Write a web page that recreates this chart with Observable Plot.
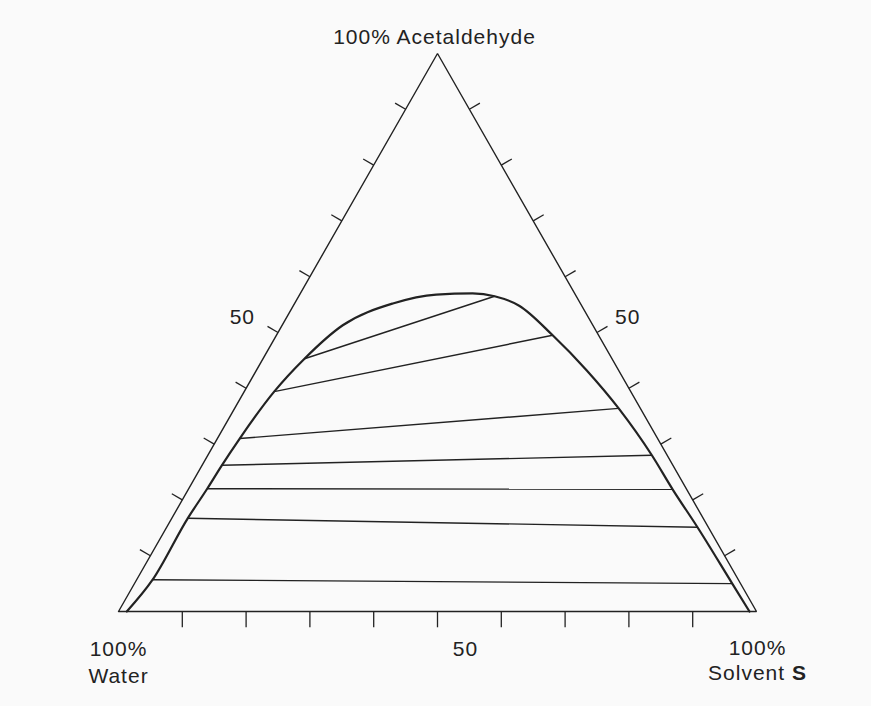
<!DOCTYPE html>
<html><head><meta charset="utf-8">
<script src="https://cdn.jsdelivr.net/npm/d3@7"></script>
<script src="https://cdn.jsdelivr.net/npm/@observablehq/plot@0.6"></script>
<style>
html,body{margin:0;padding:0;background:#fafafa;}
#chart svg text{letter-spacing:1px;}
</style></head><body><div id="chart"></div>
<script>
// ---- data (mass %) ----
const componentNames = ["Acetaldehyde", "Water", "Solvent S"];
const cornerPrefix = "100%";
const tickPercents = [10, 20, 30, 40, 50, 60, 70, 80, 90];
const midTickLabel = "50";

// tie lines: water-rich (raffinate) end and solvent-rich (extract) end
const raffinateAcetaldehyde = [45.3, 39.4, 31.0, 26.2, 22.0, 16.7, 5.7];
const raffinateSolvent      = [6.5, 4.7, 3.5, 3.1, 2.9, 2.5, 2.5];
const extractAcetaldehyde   = [56.5, 49.5, 36.4, 28.0, 21.9, 15.1, 5.0];
const extractSolvent        = [30.7, 43.3, 60.2, 69.6, 75.9, 83.2, 93.7];

// binodal (solubility) curve, from the water corner round to the solvent corner
const binodalAcetaldehyde = [0, 5.7, 16.7, 22.0, 26.2, 31.0, 39.4, 45.3, 51.3, 55.2, 56.8, 57.0, 56.5, 54.8, 49.5, 43.2, 36.4, 28.0, 21.9, 15.1, 5.0, 0];
const binodalSolvent      = [1.3, 2.5, 2.5, 2.9, 3.1, 3.5, 4.7, 6.5, 9.5, 15.4, 21.4, 27.0, 30.7, 35.4, 43.3, 51.8, 60.2, 69.6, 75.9, 83.2, 93.7, 98.9];

// ---- ternary -> cartesian ----
const R3 = Math.sqrt(3) / 2;
const tx = (a, s) => s / 100 + a / 200;
const ty = (a) => (a / 100) * R3;

const triangle = [[0, 0], [0, 100], [100, 0], [0, 0]].map(([a, s]) => ({x: tx(a, s), y: ty(a)}));
const binodal = binodalAcetaldehyde.map((a, i) => ({x: tx(a, binodalSolvent[i]), y: ty(a)}));
const ties = raffinateAcetaldehyde.map((a, i) => ({
  x1: tx(a, raffinateSolvent[i]), y1: ty(a),
  x2: tx(extractAcetaldehyde[i], extractSolvent[i]), y2: ty(extractAcetaldehyde[i])
}));

const tickLen = 0.019, baseTickLen = 0.0245;
const bottomTicks = tickPercents.map(p => ({x1: tx(0, p), y1: 0, x2: tx(0, p), y2: -baseTickLen}));
const leftTicks = tickPercents.map(p => {
  const x = tx(p, 0), y = ty(p);
  return {x1: x, y1: y, x2: x - tickLen * R3, y2: y + tickLen * 0.5};
});
const rightTicks = tickPercents.map(p => {
  const x = tx(p, 100 - p), y = ty(p);
  return {x1: x, y1: y, x2: x + tickLen * R3, y2: y + tickLen * 0.5};
});

const ink = "#222222";
const font = "Liberation Sans, Arial, Helvetica, sans-serif";
const fs = 21;
const txt = (data, opts) => Plot.text(data, {x: "x", y: "y", text: "t", fill: ink, fontFamily: font, fontSize: fs, lineAnchor: "bottom", ...opts});

const apex = {x: tx(100, 0), y: ty(100)};
const waterC = {x: tx(0, 0), y: 0};
const solvC = {x: tx(0, 100), y: 0};

const chart = Plot.plot({
  width: 871, height: 706,
  marginTop: 0, marginBottom: 0, marginLeft: 0, marginRight: 0,
  style: {background: "#fafafa"},
  x: {domain: [0, 1], range: [118, 756], axis: null},
  y: {domain: [0, R3], range: [611, 53], axis: null},
  marks: [
    Plot.line(triangle, {x: "x", y: "y", stroke: ink, strokeWidth: 1.4, strokeLinejoin: "miter"}),
    Plot.link(bottomTicks, {x1: "x1", y1: "y1", x2: "x2", y2: "y2", stroke: ink, strokeWidth: 1.3}),
    Plot.link(leftTicks, {x1: "x1", y1: "y1", x2: "x2", y2: "y2", stroke: ink, strokeWidth: 1.3}),
    Plot.link(rightTicks, {x1: "x1", y1: "y1", x2: "x2", y2: "y2", stroke: ink, strokeWidth: 1.3}),
    Plot.link(ties, {x1: "x1", y1: "y1", x2: "x2", y2: "y2", stroke: ink, strokeWidth: 1.4}),
    Plot.line(binodal, {x: "x", y: "y", stroke: ink, strokeWidth: 2.2, curve: "monotone-x"}),
    txt([{...apex, t: `${cornerPrefix} ${componentNames[0]}`}], {textAnchor: "middle", dx: -3, dy: -10}),
    txt([{x: tx(50, 0), y: ty(50), t: midTickLabel}], {textAnchor: "end", dx: -23, dy: -9}),
    txt([{x: tx(50, 50), y: ty(50), t: midTickLabel}], {textAnchor: "start", dx: 18, dy: -9}),
    txt([{x: tx(0, 50), y: 0, t: midTickLabel}], {textAnchor: "middle", dx: 28, dy: 44}),
    txt([{...waterC, t: cornerPrefix}], {textAnchor: "middle", dx: 0, dy: 44}),
    txt([{...waterC, t: componentNames[1]}], {textAnchor: "middle", dx: 0, dy: 71}),
    txt([{...solvC, t: cornerPrefix}], {textAnchor: "middle", dx: 1, dy: 43}),
    txt([{...solvC, t: componentNames[2]}], {textAnchor: "middle", dx: 1, dy: 68})
  ]
});

d3.select(chart).selectAll("text").filter(function () { return this.textContent === "Solvent S"; })
  .each(function () {
    const t = d3.select(this);
    t.text("Solvent ");
    t.append("tspan").attr("font-weight", "bold").text("S");
  });

document.getElementById("chart").appendChild(chart);
</script></body></html>
